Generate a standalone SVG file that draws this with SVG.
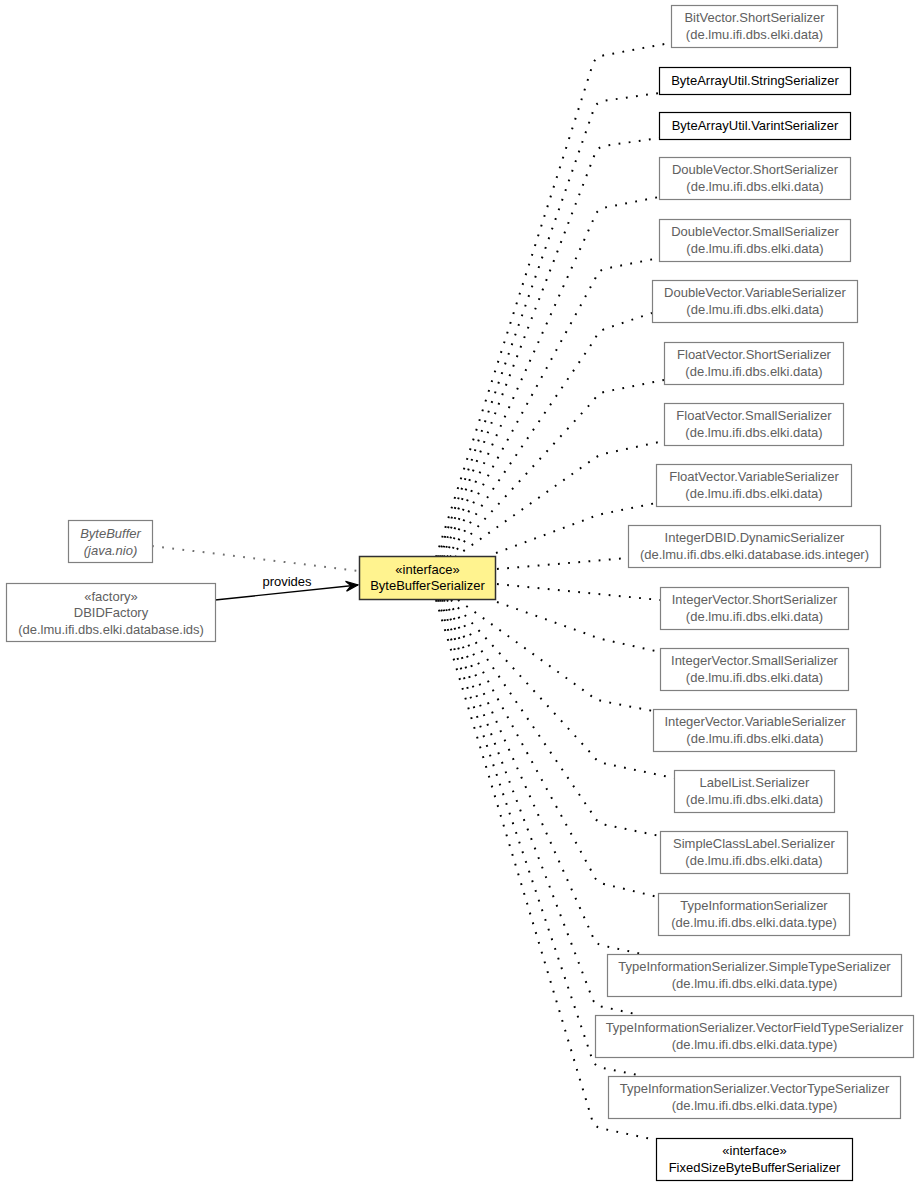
<svg xmlns="http://www.w3.org/2000/svg" width="920" height="1187" viewBox="0 0 920 1187">
<style>
text{font-family:"Liberation Sans",Arial,sans-serif;font-size:13px;text-anchor:middle}
.g rect{fill:#fff;stroke:#808080;stroke-width:1.2}
.g text{fill:#606060}
.b rect{fill:#fff;stroke:#000;stroke-width:1.2}
.b text{fill:#000}
.c rect{fill:#fff38f;stroke:#303030;stroke-width:1.5}
.c text{fill:#000}
.dep{fill:none;stroke:#000;stroke-width:2;stroke-dasharray:1.8,8.4;stroke-linecap:butt}
.gdep{fill:none;stroke:#707070;stroke-width:2;stroke-dasharray:1.8,8.4}
.assoc{fill:none;stroke:#000;stroke-width:1.4}
</style>
<defs>
<marker id="vee" markerWidth="14" markerHeight="12" refX="13" refY="6" orient="auto" markerUnits="userSpaceOnUse">
<path d="M1,1 L13,6 L1,11 L6,6 Z" fill="#000" stroke="#000" stroke-width="1.2" stroke-linejoin="miter"/>
</marker>
</defs>
<g id="connectors">
<path class="dep" d="M436,557 L592.5,65 Q595,57 603,55.5 L670,43"/>
<path class="dep" d="M438,557 L593.5,110 Q596,102 604,100.8 L659,93"/>
<path class="dep" d="M440,557 L594.5,155 Q597,147 605,145.8 L659,138"/>
<path class="dep" d="M442,557 L594.5,217 Q597,209 605,207.5 L659,197"/>
<path class="dep" d="M444,557 L595.5,278 Q598,270 606,268.5 L659,258"/>
<path class="dep" d="M447,557 L595,339 Q598,331 606,328.5 L652,313"/>
<path class="dep" d="M450,557 L594,400 Q598,393 606,391.5 L664,380"/>
<path class="dep" d="M455,557 L592,460 Q598,455 606,453.3 L664,441"/>
<path class="dep" d="M496,553 L590,518 Q597,515 605,513.4 L656,503"/>
<path class="dep" d="M497,569 L628,558"/>
<path class="dep" d="M497,584 L660,600"/>
<path class="dep" d="M497,602 L590,635 Q597,638 605,639.8 L660,652"/>
<path class="dep" d="M458,600 L590,695 Q596,700 604,701.5 L653,711"/>
<path class="dep" d="M451,600 L592.5,755 Q597,762 605,763.6 L674,778"/>
<path class="dep" d="M447,600 L593.5,815.5 Q597,823 605,824.7 L660,836"/>
<path class="dep" d="M444,600 L593,874 Q596,882 604,884 L658,897"/>
<path class="dep" d="M442,600 L592.5,936 Q595,944 603,945.7 L642,954"/>
<path class="dep" d="M440,600 L591.8,997 Q594,1005 602,1006.7 L640,1015"/>
<path class="dep" d="M438,600 L591.8,1058 Q594,1066 602,1067.8 L643,1076"/>
<path class="dep" d="M436,600 L591.8,1119 Q594,1127 602,1128.6 L656,1140"/>
<path class="gdep" d="M152,546 L359,571"/>
<path class="assoc" d="M215,600 L358,585" marker-end="url(#vee)"/>
<text x="287" y="586" style="fill:#000">provides</text>
</g>
<g id="n_center" class="c"><rect x="359.5" y="556.5" width="136" height="43"/><text x="427.5" y="574">«interface»</text><text x="427.5" y="590">ByteBufferSerializer</text></g>
<g id="n_bytebuffer" class="g"><rect x="68.5" y="520.5" width="84" height="42"/><text x="110.5" y="538" font-style="italic">ByteBuffer</text><text x="110.5" y="555" font-style="italic">(java.nio)</text></g>
<g id="n_dbidfactory" class="g"><rect x="6.5" y="583.5" width="209" height="58"/><text x="111" y="601">«factory»</text><text x="111" y="617">DBIDFactory</text><text x="111" y="634">(de.lmu.ifi.dbs.elki.database.ids)</text></g>
<g id="n1" class="g"><rect x="671.5" y="5.5" width="166" height="42"/><text x="754.5" y="22">BitVector.ShortSerializer</text><text x="754.5" y="39">(de.lmu.ifi.dbs.elki.data)</text></g>
<g id="n2" class="b"><rect x="659.5" y="67.5" width="191" height="27"/><text x="755" y="85">ByteArrayUtil.StringSerializer</text></g>
<g id="n3" class="b"><rect x="659.5" y="112.5" width="191" height="27"/><text x="755" y="130">ByteArrayUtil.VarintSerializer</text></g>
<g id="n4" class="g"><rect x="659.5" y="157.5" width="191" height="42"/><text x="755" y="174">DoubleVector.ShortSerializer</text><text x="755" y="191">(de.lmu.ifi.dbs.elki.data)</text></g>
<g id="n5" class="g"><rect x="659.5" y="219.5" width="191" height="42"/><text x="755" y="236">DoubleVector.SmallSerializer</text><text x="755" y="253">(de.lmu.ifi.dbs.elki.data)</text></g>
<g id="n6" class="g"><rect x="652.5" y="280.5" width="205" height="42"/><text x="755" y="297">DoubleVector.VariableSerializer</text><text x="755" y="314">(de.lmu.ifi.dbs.elki.data)</text></g>
<g id="n7" class="g"><rect x="664.5" y="342.5" width="179" height="42"/><text x="754" y="359">FloatVector.ShortSerializer</text><text x="754" y="376">(de.lmu.ifi.dbs.elki.data)</text></g>
<g id="n8" class="g"><rect x="664.5" y="403.5" width="179" height="42"/><text x="754" y="420">FloatVector.SmallSerializer</text><text x="754" y="437">(de.lmu.ifi.dbs.elki.data)</text></g>
<g id="n9" class="g"><rect x="656.5" y="464.5" width="195" height="42"/><text x="754" y="481">FloatVector.VariableSerializer</text><text x="754" y="498">(de.lmu.ifi.dbs.elki.data)</text></g>
<g id="n10" class="g"><rect x="628.5" y="525.5" width="252" height="42"/><text x="754.5" y="542">IntegerDBID.DynamicSerializer</text><text x="754.5" y="559">(de.lmu.ifi.dbs.elki.database.ids.integer)</text></g>
<g id="n11" class="g"><rect x="660.5" y="587.5" width="188" height="42"/><text x="754.5" y="604">IntegerVector.ShortSerializer</text><text x="754.5" y="621">(de.lmu.ifi.dbs.elki.data)</text></g>
<g id="n12" class="g"><rect x="660.5" y="648.5" width="188" height="42"/><text x="754.5" y="665">IntegerVector.SmallSerializer</text><text x="754.5" y="682">(de.lmu.ifi.dbs.elki.data)</text></g>
<g id="n13" class="g"><rect x="653.5" y="709.5" width="203" height="42"/><text x="755" y="726">IntegerVector.VariableSerializer</text><text x="755" y="743">(de.lmu.ifi.dbs.elki.data)</text></g>
<g id="n14" class="g"><rect x="674.5" y="770.5" width="160" height="42"/><text x="754.5" y="787">LabelList.Serializer</text><text x="754.5" y="804">(de.lmu.ifi.dbs.elki.data)</text></g>
<g id="n15" class="g"><rect x="660.5" y="831.5" width="187" height="42"/><text x="754" y="848">SimpleClassLabel.Serializer</text><text x="754" y="865">(de.lmu.ifi.dbs.elki.data)</text></g>
<g id="n16" class="g"><rect x="658.5" y="893.5" width="191" height="42"/><text x="754" y="910">TypeInformationSerializer</text><text x="754" y="927">(de.lmu.ifi.dbs.elki.data.type)</text></g>
<g id="n17" class="g"><rect x="607.5" y="954.5" width="294" height="42"/><text x="754.5" y="971">TypeInformationSerializer.SimpleTypeSerializer</text><text x="754.5" y="988">(de.lmu.ifi.dbs.elki.data.type)</text></g>
<g id="n18" class="g"><rect x="595.5" y="1015.5" width="318" height="42"/><text x="754.5" y="1032">TypeInformationSerializer.VectorFieldTypeSerializer</text><text x="754.5" y="1049">(de.lmu.ifi.dbs.elki.data.type)</text></g>
<g id="n19" class="g"><rect x="608.5" y="1076.5" width="292" height="42"/><text x="754.5" y="1093">TypeInformationSerializer.VectorTypeSerializer</text><text x="754.5" y="1110">(de.lmu.ifi.dbs.elki.data.type)</text></g>
<g id="n20" class="b"><rect x="656.5" y="1138.5" width="196" height="42"/><text x="754.5" y="1155">«interface»</text><text x="754.5" y="1172">FixedSizeByteBufferSerializer</text></g>
</svg>
